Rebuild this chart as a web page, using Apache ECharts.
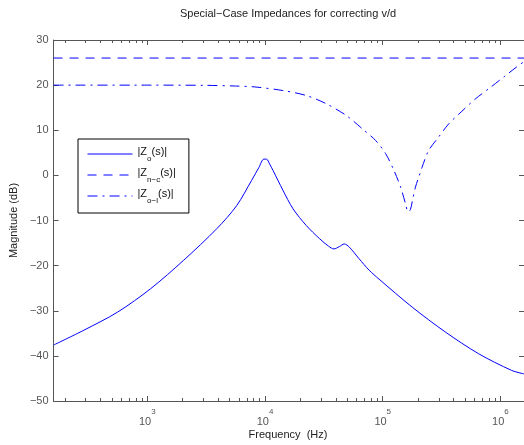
<!DOCTYPE html>
<html>
<head>
<meta charset="utf-8">
<script src="https://cdn.jsdelivr.net/npm/echarts@6/dist/echarts.min.js"></script>
<style>
  html, body { margin: 0; padding: 0; background: #fff; }
  #chart { width: 524px; height: 445px; }
</style>
</head>
<body>
<div id="chart"></div>
<script>
// 频率范围 (Hz)
var freqMin = 160;
var freqMax = 1585000;

// |Zo(s)|
var zoFreq = [160, 290, 560, 1070, 2040, 3900, 5750, 7700, 8900, 9770, 10300, 10960, 11700, 14200, 17300,
  22400, 29000, 34700, 38500, 42700, 47100, 52000, 63100, 76600, 93100, 178000, 340000, 650000, 1240000, 1585000];
var zoMag = [-37.6, -34.3, -30.3, -25.1, -18.8, -11.8, -6.7, -1.1, 1.8, 3.6, 3.6, 2.5, 1.1, -3.3, -7.4,
  -11.1, -14.0, -15.7, -16.3, -15.8, -15.2, -15.9, -18.5, -21.0, -23.0, -29.2, -34.7, -39.5, -43.2, -44.0];

// |Zn-c(s)|
var zncFreq = [160, 1585000];
var zncMag = [26, 26];

// |Zo-l(s)|
var zolFreq = [160, 1000, 3160, 5620, 8200, 14200, 22400, 33000, 48800, 67300, 87300, 105900, 124500, 141900,
  156300, 164400, 171800, 177800, 189700, 202300, 215800, 245500, 298500, 363100, 470000, 609500, 841400,
  1091000, 1368000, 1585000];
var zolMag = [20.0, 20.0, 19.95, 19.8, 19.6, 18.8, 17.7, 15.9, 13.3, 10.3, 7.7, 4.8, 1.1, -2.6,
  -6.3, -8.1, -7.6, -5.9, -2.6, -0.4, 1.8, 5.5, 8.5, 11.4, 14.2, 16.9, 19.7,
  22.0, 24.0, 25.2];

// 刻度
var majorTicks = [1000, 10000, 100000, 1000000];
var minorTicks = [];
[100, 1000, 10000, 100000, 1000000].forEach(function (d) {
  for (var m = 2; m <= 9; m++) {
    if (m * d >= freqMin && m * d <= freqMax) minorTicks.push(m * d);
  }
});

function pairs(xs, ys) {
  return xs.map(function (x, i) { return [x, ys[i]]; });
}

var axisColor = '#555';
var fontFamily = '"Liberation Sans", Arial, sans-serif';

function logAxis(position, major, withLabel) {
  return {
    type: 'log',
    logBase: 10,
    position: position,
    min: freqMin,
    max: freqMax,
    axisLine: { show: major, onZero: false, lineStyle: { color: axisColor, width: 1 } },
    axisTick: {
      show: true, inside: true, length: major ? 5 : 3,
      customValues: major ? majorTicks : minorTicks,
      lineStyle: { color: axisColor }
    },
    axisLabel: {
      show: withLabel,
      customValues: majorTicks,
      margin: 6,
      formatter: function (v) {
        return '{b|10}{s|' + Math.round(Math.log10(v)) + '}';
      },
      rich: {
        b: { fontSize: 11, fontFamily: fontFamily, color: axisColor, lineHeight: 20, verticalAlign: 'bottom' },
        s: { fontSize: 8, fontFamily: fontFamily, color: axisColor, lineHeight: 20, verticalAlign: 'top', padding: [1, 0, 0, 0] }
      }
    },
    splitLine: { show: false },
    minorTick: { show: false },
    minorSplitLine: { show: false }
  };
}

var chart = echarts.init(document.getElementById('chart'));

var option = {
  animation: false,
  backgroundColor: '#fff',
  title: [
    {
      text: 'Special\u2212Case Impedances for correcting v/d',
      left: 283, top: 3, textAlign: 'center',
      textStyle: { fontSize: 11, fontWeight: 'normal', color: '#222', fontFamily: fontFamily }
    },
    {
      text: 'Frequency  (Hz)',
      left: 283, top: 424, textAlign: 'center',
      textStyle: { fontSize: 11, fontWeight: 'normal', color: '#222', fontFamily: fontFamily }
    }
  ],
  grid: { left: 53, top: 40, width: 473, height: 361, containLabel: false },
  legend: {
    orient: 'vertical',
    left: 78, top: 139,
    padding: [6, 13, 8, 9],
    itemGap: 3,
    itemWidth: 45,
    itemHeight: 14,
    backgroundColor: '#fff',
    borderColor: '#000',
    borderWidth: 1,
    borderRadius: 0,
    itemStyle: { opacity: 0 },
    lineStyle: { width: 1 },
    data: ['zo', 'znc', 'zol'],
    formatter: function (name) {
      var sub = { zo: 'o', znc: 'n\u2212c', zol: 'o\u2212l' }[name];
      return '{t||Z}{u|' + sub + '}{t|(s)|}';
    },
    textStyle: {
      rich: {
        t: { fontSize: 11, fontFamily: fontFamily, color: '#111', lineHeight: 18, verticalAlign: 'top', padding: [1, 0, 0, 0] },
        u: { fontSize: 8, fontFamily: fontFamily, color: '#111', lineHeight: 18, verticalAlign: 'bottom' }
      }
    }
  },
  xAxis: [
    logAxis('bottom', true, true),
    logAxis('bottom', false, false),
    logAxis('top', true, false),
    logAxis('top', false, false)
  ],
  yAxis: [
    {
      type: 'value', position: 'left',
      min: -50, max: 30, interval: 10,
      name: 'Magnitude (dB)', nameLocation: 'middle', nameGap: 29, nameRotate: 90,
      nameTextStyle: { fontSize: 11, color: '#222', fontFamily: fontFamily },
      axisLine: { show: true, onZero: false, lineStyle: { color: axisColor } },
      axisTick: { show: true, inside: true, length: 5, lineStyle: { color: axisColor } },
      axisLabel: {
        margin: 5, fontSize: 11, color: axisColor, fontFamily: fontFamily,
        formatter: function (v) { return String(v).replace('-', '\u2212'); }
      },
      splitLine: { show: false }
    },
    {
      type: 'value', position: 'right',
      min: -50, max: 30, interval: 10,
      axisLine: { show: true, onZero: false, lineStyle: { color: axisColor } },
      axisTick: { show: true, inside: true, length: 5, lineStyle: { color: axisColor } },
      axisLabel: { show: false },
      splitLine: { show: false }
    }
  ],
  series: [
    {
      name: 'zo', type: 'line', xAxisIndex: 0, yAxisIndex: 0,
      data: pairs(zoFreq, zoMag),
      smooth: 0.3, showSymbol: false, symbol: 'none',
      lineStyle: { color: '#0000ff', width: 1, type: 'solid' },
      itemStyle: { color: '#0000ff' }
    },
    {
      name: 'znc', type: 'line', xAxisIndex: 0, yAxisIndex: 0,
      data: pairs(zncFreq, zncMag),
      showSymbol: false, symbol: 'none',
      lineStyle: { color: '#0000ff', width: 1, type: [9, 7] },
      itemStyle: { color: '#0000ff' }
    },
    {
      name: 'zol', type: 'line', xAxisIndex: 0, yAxisIndex: 0,
      data: pairs(zolFreq, zolMag),
      smooth: 0.3, showSymbol: false, symbol: 'none',
      lineStyle: { color: '#0000ff', width: 1, type: [10, 5, 2, 5] },
      itemStyle: { color: '#0000ff' }
    }
  ]
};

chart.setOption(option);
</script>
</body>
</html>
